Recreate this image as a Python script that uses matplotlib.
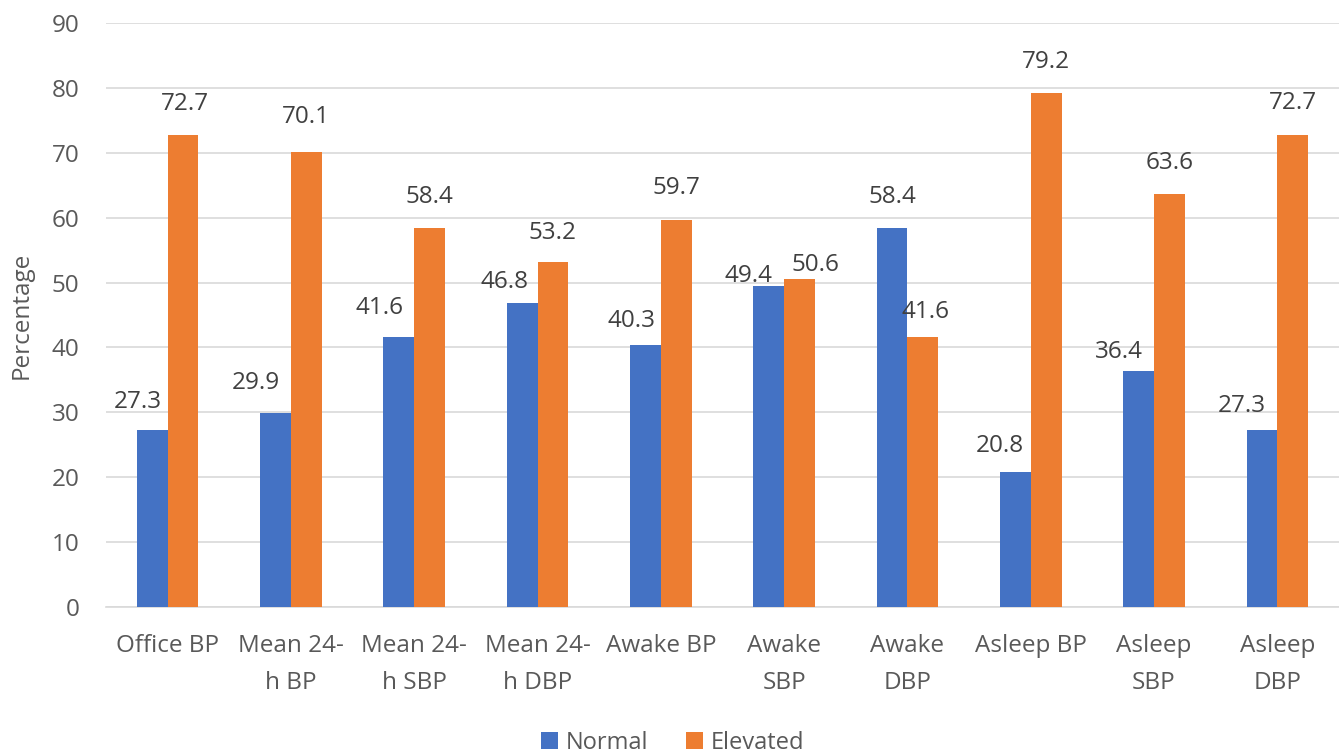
import matplotlib
matplotlib.use("Agg")
import matplotlib.pyplot as plt
import numpy as np

categories = ["Office BP", "Mean 24-\nh BP", "Mean 24-\nh SBP", "Mean 24-\nh DBP",
              "Awake BP", "Awake\nSBP", "Awake\nDBP", "Asleep BP", "Asleep\nSBP", "Asleep\nDBP"]
normal = [27.3, 29.9, 41.6, 46.8, 40.3, 49.4, 58.4, 20.8, 36.4, 27.3]
elevated = [72.7, 70.1, 58.4, 53.2, 59.7, 50.6, 41.6, 79.2, 63.6, 72.7]
yticks = [0, 10, 20, 30, 40, 50, 60, 70, 80, 90]

# label placement offsets (pixels) relative to bar top centre
normal_offsets = [(-14, 28), (-20, 30), (-19, 29), (-18, 21), (-14, 24),
                  (-20, 10), (0, 31), (-16, 26), (-20, 19), (-20, 24)]
elevated_offsets = [(2, 31), (0, 35), (0, 31), (0, 29), (0, 32),
                    (16, 14), (3, 25), (0, 31), (0, 31), (0, 32)]

plt.rcParams['font.family'] = ['Open Sans', 'DejaVu Sans']

fig = plt.figure(figsize=(13.39, 7.56), dpi=100)
ax = fig.add_axes([106 / 1339, 1 - 607 / 756, 1 - 106 / 1339, (607 - 23) / 756])

blue = "#4472C4"
orange = "#ED7D31"
fs = 17.5
x = np.arange(len(categories))
w = 0.25
b1 = ax.bar(x - w / 2, normal, w, color=blue, label="Normal", zorder=3)
b2 = ax.bar(x + w / 2, elevated, w, color=orange, label="Elevated", zorder=3)

for bars, vals, offs in ((b1, normal, normal_offsets), (b2, elevated, elevated_offsets)):
    for rect, v, (dx, dy) in zip(bars, vals, offs):
        ax.annotate(f"{v:.1f}", (rect.get_x() + rect.get_width() / 2, rect.get_height()),
                    xytext=(dx, dy), textcoords="offset pixels",
                    ha="center", va="center", fontsize=fs, color="#404040", zorder=4)

ax.set_xlim(-0.5, len(categories) - 0.5)
ax.set_ylim(0, 90)
ax.set_yticks(yticks)
ax.set_xticks(x)
ax.set_xticklabels(categories, linespacing=1.73)
ax.tick_params(axis="both", length=0, labelsize=fs, labelcolor="#595959")
ax.tick_params(axis="y", pad=19)
ax.tick_params(axis="x", pad=19.5)
ax.grid(axis="y", color="#D9D9D9", linewidth=1.2, zorder=0)
for s in ["top", "right", "left"]:
    ax.spines[s].set_visible(False)
ax.spines["bottom"].set_color("#D9D9D9")
ax.spines["bottom"].set_linewidth(1.2)
ax.set_ylabel("Percentage", fontsize=fs, color="#595959", labelpad=13)

fig.legend(loc="center", bbox_to_anchor=(673 / 1339, 1 - 743 / 756), ncol=2, frameon=False,
           fontsize=17, labelcolor="#595959", handlelength=0.7, handleheight=0.7,
           handletextpad=0.35, columnspacing=1.6)

fig.savefig("out.png", dpi=100, facecolor="white")
